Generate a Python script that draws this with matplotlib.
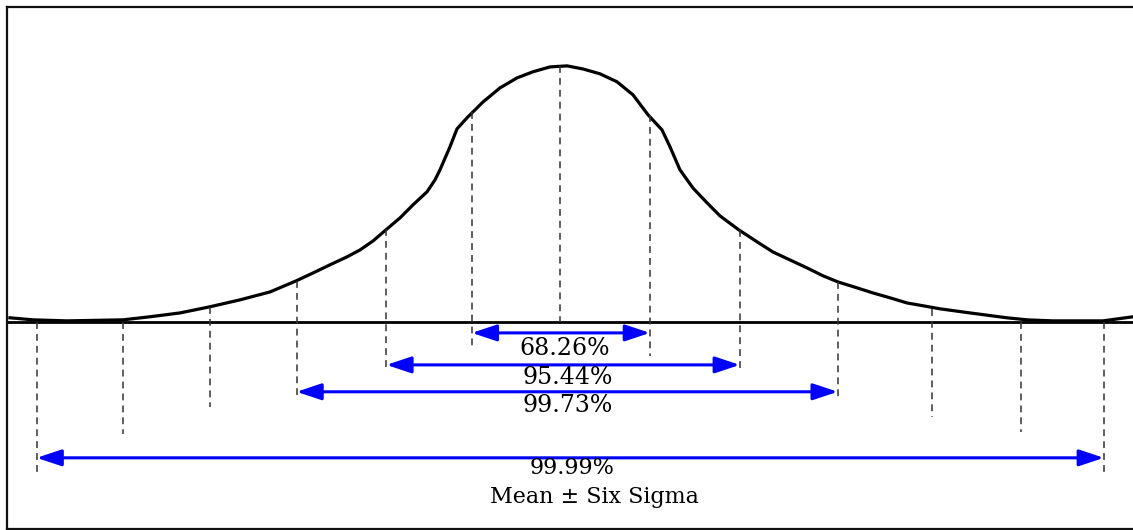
import matplotlib
matplotlib.use("Agg")
import matplotlib.pyplot as plt
from matplotlib.patches import FancyArrowPatch

# curve: x in sigma, height relative to the peak
curve_x = [-6.180, -5.921, -5.539, -4.910, -4.607, -4.270, -3.933, -3.596, -3.258,
           -2.966, -2.775, -2.584, -2.393, -2.247, -2.101, -1.944, -1.798, -1.652,
           -1.494, -1.404, -1.348, -1.236, -1.157, -1.045, -0.865, -0.674, -0.483,
           -0.303, -0.112, 0.079, 0.258, 0.449, 0.640, 0.820, 0.989, 1.146, 1.236,
           1.348, 1.494, 1.652, 1.798, 2.011, 2.213, 2.393, 2.584, 2.775, 2.955,
           3.124, 3.337, 3.517, 3.708, 3.899, 4.079, 4.270, 4.607, 5.022, 5.247,
           5.539, 6.101, 6.438]
curve_y = [0.016, 0.008, 0.004, 0.008, 0.020, 0.035, 0.059, 0.086, 0.117,
           0.160, 0.191, 0.223, 0.254, 0.281, 0.316, 0.363, 0.406, 0.457,
           0.508, 0.555, 0.594, 0.684, 0.754, 0.797, 0.859, 0.914, 0.953,
           0.977, 0.996, 1.0, 0.988, 0.969, 0.938, 0.887, 0.809, 0.750, 0.684,
           0.594, 0.523, 0.465, 0.414, 0.359, 0.313, 0.273, 0.242, 0.211, 0.180,
           0.156, 0.133, 0.113, 0.094, 0.074, 0.063, 0.051, 0.035, 0.016, 0.008,
           0.004, 0.004, 0.020]

# dashed sigma markers: position, top (on curve) and bottom
sigma_x = [-5.88, -4.91, -3.93, -2.96, -1.95, -0.99, 0.0, 1.01, 2.02, 3.12, 4.18, 5.18, 6.11]
sigma_top = [0.0, 0.0, 0.059, 0.160, 0.363, 0.820, 1.0, 0.809, 0.359, 0.156, 0.051, 0.0, 0.0]
sigma_bottom = [-0.590, -0.438, -0.332, -0.285, -0.180, -0.100, 0.0, -0.133, -0.195,
                -0.309, -0.371, -0.430, -0.586]

# coverage arrows
arrow_left = [-0.99, -1.95, -2.96, -5.88]
arrow_right = [1.01, 2.02, 3.12, 6.11]
arrow_y = [-0.043, -0.168, -0.273, -0.531]
arrow_labels = ["68.26%", "95.44%", "99.73%", "99.99%"]
label_x = [0.05, 0.09, 0.09, 0.135]
label_y = [-0.102, -0.219, -0.328, -0.570]
label_size = [17, 17, 17, 16]
footer = "Mean \u00b1 Six Sigma"

fig = plt.figure(figsize=(11.33, 5.30), dpi=100)
ax = fig.add_axes([7 / 1133, 1 / 530, 1126 / 1133, 522 / 530])
ax.set_xlim(-6.213, 6.438)
ax.set_ylim(-0.809, 1.230)
ax.set_xticks([])
ax.set_yticks([])
ax.spines["right"].set_visible(False)
for s in ["left", "top", "bottom"]:
    ax.spines[s].set_linewidth(1.6)
    ax.spines[s].set_color("#111111")

# baseline and curve
ax.plot([-6.2, 6.44], [0, 0], color="black", lw=2.0, clip_on=False)
ax.plot(curve_x, curve_y, color="black", lw=2.3, solid_joinstyle="round", clip_on=False)

for x, t, b in zip(sigma_x, sigma_top, sigma_bottom):
    ax.plot([x, x], [t, b], color="#333333", lw=1.1, linestyle=(0, (4.5, 3.3)))

for x0, x1, y in zip(arrow_left, arrow_right, arrow_y):
    ar = FancyArrowPatch((x0, y), (x1, y), arrowstyle="<|-|>,head_length=1.5,head_width=0.5",
                         mutation_scale=10, color="#0000ff", lw=2.2, shrinkA=0, shrinkB=0)
    ax.add_patch(ar)

for lab, x, y, fs in zip(arrow_labels, label_x, label_y, label_size):
    ax.text(x, y, lab, ha="center", va="center", fontsize=fs, family="DejaVu Serif")
ax.text(0.39, -0.683, footer, ha="center", va="center", fontsize=16, family="DejaVu Serif")

fig.savefig("out.png", dpi=100)
